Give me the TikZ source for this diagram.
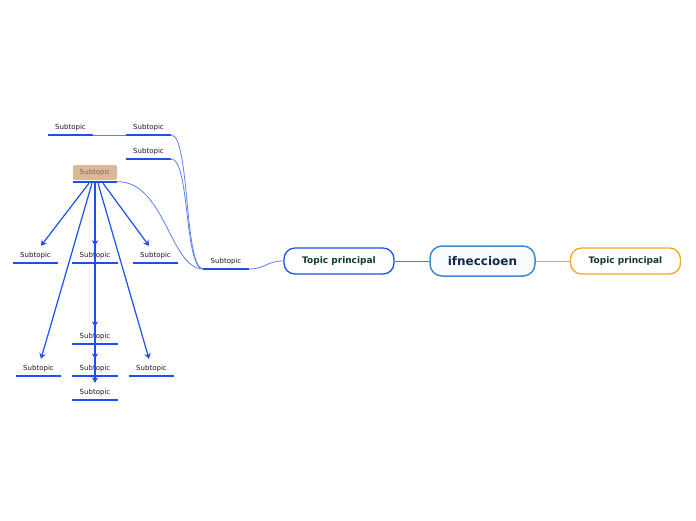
\documentclass[tikz,border=0pt]{standalone}
\usepackage{fontspec}
\setmainfont{DejaVu Sans}
\usetikzlibrary{arrows.meta,positioning,calc}
\definecolor{mapblue}{HTML}{1B4FF0}
\definecolor{linkblue}{HTML}{5A82F2}
\definecolor{rootblue}{HTML}{3A8CD2}
\definecolor{rootfill}{HTML}{FAFCFE}
\definecolor{rootink}{HTML}{14284C}
\definecolor{topicink}{HTML}{0D3B30}
\definecolor{maporange}{HTML}{F5A623}
\definecolor{beige}{HTML}{DDB897}
\definecolor{beigeink}{HTML}{7E6656}
\tikzset{
  root/.style={draw=rootblue,line width=1.5pt,fill=rootfill,rounded corners=12pt,
    minimum width=105pt,minimum height=30pt,inner sep=0pt,text=rootink,
    font=\fontsize{12}{14}\selectfont\bfseries},
  topic/.style={draw=mapblue,line width=1.3pt,fill=white,rounded corners=11pt,
    minimum width=110pt,minimum height=26pt,inner sep=0pt,text=topicink,
    font=\fontsize{9}{11}\selectfont\bfseries},
  subtopic/.style={anchor=south,minimum width=45pt,inner xsep=0pt,inner ysep=3.5pt,
    text=black!90,font=\fontsize{7}{8}\selectfont},
  chosen/.style={fill=beige,rounded corners=2pt,minimum width=44pt,minimum height=15pt,
    inner sep=0pt,text=beigeink,font=\fontsize{7}{8}\selectfont},
  uline/.style={draw=mapblue,line width=2pt},
  link/.style={draw=linkblue,line width=0.8pt},
  arr/.style={draw=mapblue,line width=1.2pt,-{Stealth[length=5.5pt,width=6.5pt]}}
}
\begin{document}
\begin{tikzpicture}[x=1pt,y=-1pt]
  \useasboundingbox (0,0) rectangle (696,520);
  % Main topics
  \node[root] (root) at (482.5,261) {ifneccioen};
  \node[topic] (left) at (339,261) {Topic principal};
  \node[topic,draw=maporange] (right) at (625.5,261) {Topic principal};
  \draw[draw=linkblue!80!mapblue,line width=1pt] (left.east) -- (root.west);
  \draw[maporange,line width=1pt] (root.east) -- (right.west);

  % Subtopics
  \node[subtopic] (s0) at (226,269) {Subtopic};
  \node[subtopic] (a0) at (70.5,135) {Subtopic};
  \node[subtopic] (a1) at (148.5,135) {Subtopic};
  \node[subtopic] (a2) at (148.5,159) {Subtopic};
  \node[chosen] (b) at (95,172.5) {Subtopic};
  \node[subtopic] (c1) at (35.5,263) {Subtopic};
  \node[subtopic] (c2) at (95,263) {Subtopic};
  \node[subtopic] (c3) at (155.5,263) {Subtopic};
  \node[subtopic] (d1) at (95,344) {Subtopic};
  \node[subtopic] (e1) at (38.5,376) {Subtopic};
  \node[subtopic] (e2) at (95,376) {Subtopic};
  \node[subtopic] (e3) at (151.5,376) {Subtopic};
  \node[subtopic] (f1) at (95,400) {Subtopic};
  \foreach \n in {s0,a0,a1,a2,c1,c2,c3,d1,e1,e2,e3,f1} {
    \draw[uline] (\n.south west) -- (\n.south east);
  }
  \coordinate (bw) at ([yshift=-1.5pt]b.south west);
  \coordinate (be) at ([yshift=-1.5pt]b.south east);
  \draw[uline] (bw) -- (be);

  % Links
  \draw[link] (left.west) .. controls (266,261) and (266,269) .. (s0.south east);
  \draw[link] (a1.south east) .. controls (190,135) and (184,269) .. (s0.south west);
  \draw[link] (a2.south east) .. controls (190,159) and (184,269) .. (s0.south west);
  \draw[link] (be) .. controls (165,181) and (170,269) .. (s0.south west);
  \draw[link] (a0.south east) -- (a1.south west);

  % Arrows from the chosen subtopic
  \draw[arr] ([xshift=-6pt,yshift=-3pt]b.south) -- ([xshift=5.5pt,yshift=3pt]c1.north);
  \draw[arr] ([yshift=-3pt]b.south) -- ([yshift=3pt]c2.north);
  \draw[arr] ([xshift=8pt,yshift=-3pt]b.south) -- ([xshift=-6.5pt,yshift=3pt]c3.north);
  \draw[arr] ([xshift=-3pt,yshift=-3pt]b.south) -- ([xshift=2.5pt,yshift=3pt]e1.north);
  \draw[arr] ([xshift=3pt,yshift=-3pt]b.south) -- ([xshift=-2.5pt,yshift=3pt]e3.north);
  \draw[arr] ([yshift=-3pt]b.south) -- ([yshift=3pt]d1.north);
  \draw[arr] ([yshift=-3pt]b.south) -- ([yshift=3pt]e2.north);
  \draw[arr] ([yshift=-3pt]b.south) -- ([yshift=3pt]f1.north);
\end{tikzpicture}
\end{document}
